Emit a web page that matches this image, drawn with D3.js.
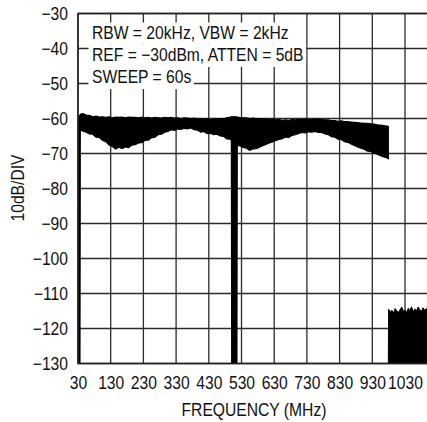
<!DOCTYPE html>
<html><head><meta charset="utf-8">
<script src="https://cdn.jsdelivr.net/npm/d3@7"></script>
<style>
html,body{margin:0;padding:0;background:#fff;}
svg text{font-family:"Liberation Sans",Arial,sans-serif;fill:#111;}
</style></head>
<body>
<svg id="c" width="427" height="422"></svg>
<script>
// ---- data ----
const yTicks = [-30,-40,-50,-60,-70,-80,-90,-100,-110,-120,-130];
const xTicks = [30,130,230,330,430,530,630,730,830,930,1030];
const annotation = ["RBW = 20kHz, VBW = 2kHz","REF = \u221230dBm, ATTEN = 5dB","SWEEP = 60s"];
const yTitle = "10dB/DIV";
const xTitle = "FREQUENCY (MHz)";

// trace envelope (MHz, dBm)
const traceFreq = [30,36,37,45,55,65,75,85,95,105,115,125,135,145,155,165,175,185,195,205,215,225,235,245,255,265,275,285,295,305,315,325,335,345,355,365,375,385,395,405,415,425,435,445,455,465,475,485,495,499,500,516,517,525,535,545,555,565,575,585,595,605,615,625,635,645,655,665,675,685,695,705,715,725,735,745,755,765,775,785,795,805,815,825,835,845,855,865,875,885,895,905,915,925,935,945,955,965,975,979];
const traceUpper = [-60.2,-59.0,-58.8,-58.6,-59.0,-59.1,-59.5,-59.3,-59.6,-59.5,-59.7,-59.5,-59.8,-59.6,-59.7,-59.6,-59.8,-59.6,-59.7,-59.7,-59.8,-59.6,-59.8,-59.7,-59.9,-59.7,-59.8,-59.9,-59.7,-59.8,-59.7,-59.9,-59.8,-60.0,-59.8,-59.9,-60.0,-59.9,-60.1,-60.0,-60.2,-60.1,-60.3,-60.1,-60.2,-60.0,-60.1,-59.8,-59.6,-59.5,-59.5,-59.5,-59.6,-59.7,-59.8,-59.8,-60.0,-59.9,-60.1,-60.0,-60.2,-60.1,-60.3,-60.2,-60.4,-60.3,-60.5,-60.4,-60.5,-60.3,-60.4,-60.2,-60.3,-60.1,-60.3,-60.2,-60.3,-60.2,-60.3,-60.4,-60.4,-60.6,-60.6,-60.8,-60.7,-60.9,-60.9,-61.0,-61.1,-61.2,-61.3,-61.4,-61.4,-61.5,-61.6,-61.8,-61.9,-62.0,-62.2,-62.3];
const traceLower = [-130,-130,-63.2,-63.6,-63.9,-64.4,-64.5,-65.3,-65.4,-66.3,-66.6,-67.6,-68.0,-68.7,-68.2,-68.6,-68.1,-68.3,-67.6,-67.5,-67.0,-66.9,-66.2,-66.2,-65.5,-65.4,-64.6,-64.5,-63.9,-63.7,-63.2,-63.4,-63.0,-63.1,-62.8,-63.0,-62.7,-63.2,-63.3,-63.9,-63.7,-64.3,-64.2,-64.6,-64.5,-65.0,-65.1,-65.8,-65.9,-66.2,-130,-130,-67.6,-67.8,-68.3,-68.5,-69.1,-68.7,-68.6,-68.2,-67.8,-67.4,-67.0,-66.7,-66.3,-66.0,-65.8,-65.3,-65.4,-64.8,-64.6,-64.3,-64.0,-64.1,-63.8,-63.9,-63.7,-64.0,-64.0,-64.4,-64.6,-65.2,-65.3,-65.9,-66.0,-66.6,-66.8,-67.3,-67.7,-68.1,-68.5,-68.8,-69.3,-69.4,-69.9,-70.2,-70.6,-71.0,-71.3,-71.5];

// noise floor after the band edge (MHz, dBm), filled down to the bottom
const noiseFreq = [979,980,985,990,995,1000,1005,1010,1015,1020,1025,1030,1035,1040,1045,1050,1055,1060,1065,1070,1075,1080,1085,1090,1095,1100];
const noiseUpper = [-130,-114.5,-115.2,-114.8,-115.6,-114.3,-115.0,-115.4,-114.6,-113.9,-115.1,-114.7,-115.5,-114.2,-114.9,-113.8,-115.3,-114.4,-115.0,-113.9,-114.6,-115.2,-114.1,-114.8,-114.3,-114.6];

// ---- layout ----
const L = 78, T = 13.5, B = 363.5, R = 427;
const svg = d3.select("#c");
const x = d3.scaleLinear().domain([30,1030]).range([L,405]);
const y = d3.scaleLinear().domain([-130,-30]).range([B,T]);

svg.append("defs").append("clipPath").attr("id","pc")
  .append("rect").attr("x",L).attr("y",T).attr("width",R-L).attr("height",B-T);

// grid
const gridC = "#2b2b2b";
svg.append("g").selectAll("line").data(yTicks).join("line")
  .attr("x1",L).attr("x2",R).attr("y1",d=>y(d)).attr("y2",d=>y(d))
  .attr("stroke",gridC).attr("stroke-width",1.3);
svg.append("g").selectAll("line").data(xTicks).join("line")
  .attr("x1",d=>x(d)).attr("x2",d=>x(d)).attr("y1",T).attr("y2",B)
  .attr("stroke",gridC).attr("stroke-width",1.3);

// data
const plot = svg.append("g").attr("clip-path","url(#pc)");
const trace = traceFreq.map((f,i)=>({f, u:traceUpper[i], l:traceLower[i]}));
plot.append("path").datum(trace)
  .attr("d", d3.area().x(d=>x(d.f)).y0(d=>y(d.l)).y1(d=>y(d.u)))
  .attr("fill","#000").attr("stroke","#000").attr("stroke-width",1.2);
const noise = noiseFreq.map((f,i)=>({f, u:noiseUpper[i]}));
plot.append("path").datum(noise)
  .attr("d", d3.area().x(d=>x(d.f)).y0(y(-130)).y1(d=>y(d.u)))
  .attr("fill","#000").attr("stroke","#000").attr("stroke-width",1);

// border
svg.append("path").attr("d",`M${R},${T}H${L}V${B}H${R}`)
  .attr("fill","none").attr("stroke","#222").attr("stroke-width",1.5);

// condensed look: horizontal squeeze of each text
const fs = 18, sx = 0.87;
const ya = svg.append("g").attr("transform",`translate(${L},0)`)
  .call(d3.axisLeft(y).tickValues(yTicks).tickSize(0).tickPadding(10)
        .tickFormat(d=>d<0 ? "\u2212"+Math.abs(d) : String(d)));
ya.select(".domain").remove();
ya.selectAll("text").attr("font-size",fs).attr("font-family",null).attr("dy","0.36em")
  .attr("x",-10/sx).attr("transform",`scale(${sx},1)`);
const xa = svg.append("g").attr("transform",`translate(0,${B})`)
  .call(d3.axisBottom(x).tickValues(xTicks).tickSize(0).tickPadding(13).tickFormat(d=>String(d)));
xa.select(".domain").remove();
xa.selectAll("text").attr("font-size",fs).attr("font-family",null).attr("dy","0.71em")
  .attr("transform",`scale(${sx},1)`);

// titles
svg.append("text").attr("transform",`translate(24,188) rotate(-90) scale(${sx},1)`)
  .attr("text-anchor","middle").attr("font-size",fs).text(yTitle);
svg.append("text").attr("transform",`translate(254,416) scale(${sx},1)`)
  .attr("text-anchor","middle").attr("font-size",fs).text(xTitle);

// annotation box (white background per line, contiguous)
const lh = 22.2;
annotation.forEach((s,i)=>{
  const g = svg.append("g").attr("transform",`translate(92,${39+i*lh}) scale(${sx},1)`);
  const t = g.append("text").attr("font-size",fs).text(s);
  const bb = t.node().getBBox();
  g.insert("rect","text").attr("x",bb.x-4).attr("y",-16.5).attr("width",bb.width+7).attr("height",lh).attr("fill","#fff");
});
</script>
</body></html>
